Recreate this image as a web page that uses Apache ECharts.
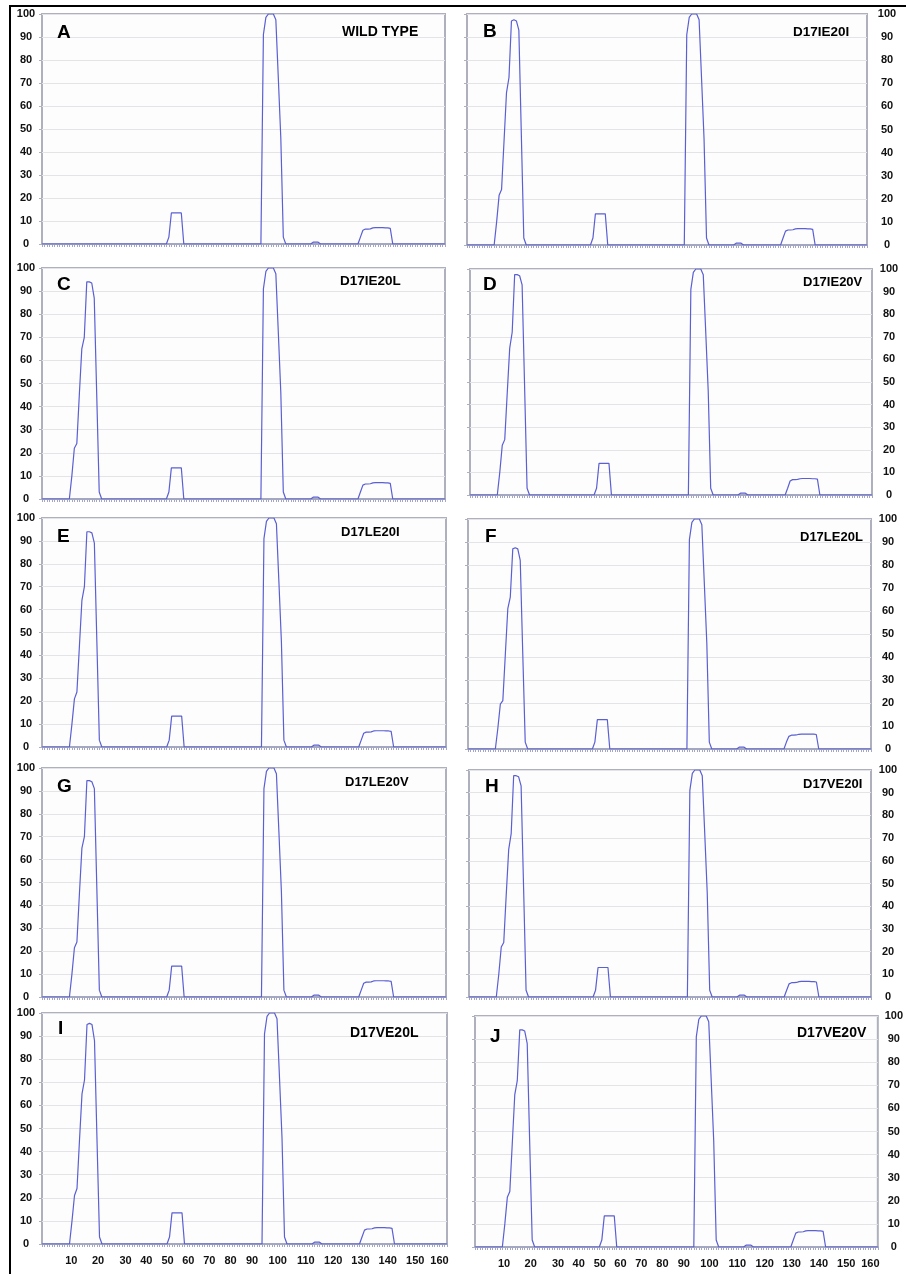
<!DOCTYPE html>
<html>
<head>
<meta charset="utf-8">
<script src="https://cdn.jsdelivr.net/npm/echarts@6/dist/echarts.min.js"></script>
<style>
  html, body { margin: 0; padding: 0; background: #fff; }
  #chart { width: 906px; height: 1274px; }
</style>
</head>
<body>
<div id="chart"></div>
<script>
// Sequence positions where the profile changes; between them the line sits flat on 0.
const xPoints = [0,
  11, 12, 13, 14, 15, 16, 17, 18, 19, 20, 21, 22, 23, 24,
  50, 51, 52, 53, 54, 55, 56, 57,
  88, 89, 90, 91, 92, 93, 94, 95, 96, 97, 98,
  108, 109, 110, 111, 112,
  127, 128, 129, 130, 131, 132, 133, 134, 135, 136, 137, 138, 139, 140, 141,
  162];

// one value per xPoints entry, grouped: start | first peak | plateau | main peak | bump | tail | end
const wildType = [0,
  0, 0, 0, 0, 0, 0, 0, 0, 0, 0, 0, 0, 0, 0,
  0, 3, 13.5, 13.5, 13.5, 13.5, 13.5, 0,
  0, 91, 98.5, 100, 100, 100, 97.5, 72, 46, 3, 0,
  0, 0.8, 0.8, 0.8, 0,
  0, 3, 6, 6.5, 6.5, 6.6, 7, 7.1, 7.1, 7.1, 7.1, 7, 7, 6.8, 0,
  0];
const d17ie20i = [0,
  0, 10, 21.5, 24, 45, 66, 72.5, 97, 97.5, 97, 93, 48, 3, 0,
  0, 3, 13.5, 13.5, 13.5, 13.5, 13.5, 0,
  0, 91, 98.5, 100, 100, 100, 97.5, 72, 46, 3, 0,
  0, 0.8, 0.8, 0.8, 0,
  0, 3, 6, 6.5, 6.5, 6.6, 7, 7.1, 7.1, 7.1, 7.1, 7, 7, 6.8, 0,
  0];
const d17ie20l = [0,
  0, 10, 22, 24, 45, 65, 70, 94, 94, 93.5, 87, 45, 3, 0,
  0, 3, 13.5, 13.5, 13.5, 13.5, 13.5, 0,
  0, 91, 98.5, 100, 100, 100, 97.5, 72, 46, 3, 0,
  0, 0.8, 0.8, 0.8, 0,
  0, 3, 6, 6.5, 6.5, 6.6, 7, 7.1, 7.1, 7.1, 7.1, 7, 7, 6.8, 0,
  0];
const d17ie20v = [0,
  0, 10, 22, 24.5, 45, 65, 72, 97.5, 97.5, 97, 93, 48, 3, 0,
  0, 3, 14, 14, 14, 14, 14, 0,
  0, 91, 98.5, 100, 100, 100, 97.5, 72, 46, 3, 0,
  0, 0.8, 0.8, 0.8, 0,
  0, 3, 6.2, 6.8, 6.8, 6.9, 7.2, 7.3, 7.3, 7.3, 7.3, 7.2, 7.2, 7, 0,
  0];
const d17le20i = [0,
  0, 10, 21, 24, 44, 64, 70, 94, 94, 93.5, 89, 46, 3, 0,
  0, 3, 13.5, 13.5, 13.5, 13.5, 13.5, 0,
  0, 91, 98.5, 100, 100, 100, 97.5, 72, 46, 3, 0,
  0, 0.8, 0.8, 0.8, 0,
  0, 3, 6, 6.5, 6.5, 6.6, 7, 7.1, 7.1, 7.1, 7.1, 7, 7, 6.8, 0,
  0];
const d17le20l = [0,
  0, 9, 19.5, 21, 41, 61, 66, 87, 87.5, 87, 82, 42, 3, 0,
  0, 3, 12.8, 12.8, 12.8, 12.8, 12.8, 0,
  0, 91, 98.5, 100, 100, 100, 97.5, 72, 46, 3, 0,
  0, 0.8, 0.8, 0.8, 0,
  0, 3, 5.5, 6, 6, 6.1, 6.4, 6.5, 6.5, 6.5, 6.5, 6.5, 6.5, 6.3, 0,
  0];
const d17le20v = [0,
  0, 10, 21.5, 24, 45, 65, 70, 94.5, 94.5, 94, 91, 47, 3, 0,
  0, 3, 13.5, 13.5, 13.5, 13.5, 13.5, 0,
  0, 91, 98.5, 100, 100, 100, 97.5, 72, 46, 3, 0,
  0, 0.8, 0.8, 0.8, 0,
  0, 3, 6, 6.5, 6.5, 6.6, 7, 7.1, 7.1, 7.1, 7.1, 7, 7, 6.8, 0,
  0];
const d17ve20i = [0,
  0, 10, 22, 24, 45, 65, 72, 97.5, 97.5, 97, 93, 48, 3, 0,
  0, 3, 13, 13, 13, 13, 13, 0,
  0, 91, 98.5, 100, 100, 100, 97.5, 72, 46, 3, 0,
  0, 0.8, 0.8, 0.8, 0,
  0, 3, 5.8, 6.3, 6.3, 6.4, 6.8, 6.9, 6.9, 6.9, 6.9, 6.8, 6.8, 6.6, 0,
  0];
const d17ve20l = [0,
  0, 10, 21, 24, 45, 65, 71, 95, 95.5, 95, 88, 45, 3, 0,
  0, 3, 13.5, 13.5, 13.5, 13.5, 13.5, 0,
  0, 91, 98.5, 100, 100, 100, 97.5, 72, 46, 3, 0,
  0, 0.8, 0.8, 0.8, 0,
  0, 3, 6, 6.5, 6.5, 6.6, 7, 7.1, 7.1, 7.1, 7.1, 7, 7, 6.8, 0,
  0];
const d17ve20v = [0,
  0, 10, 21.5, 24, 45, 66, 72, 94, 94, 93.5, 88, 45, 3, 0,
  0, 3, 13.5, 13.5, 13.5, 13.5, 13.5, 0,
  0, 91, 98.5, 100, 100, 100, 97.5, 72, 46, 3, 0,
  0, 0.8, 0.8, 0.8, 0,
  0, 3, 6, 6.5, 6.5, 6.6, 7, 7.1, 7.1, 7.1, 7.1, 7, 7, 6.8, 0,
  0];

const panelLetters = ['A', 'B', 'C', 'D', 'E', 'F', 'G', 'H', 'I', 'J'];
const panelNames = ['WILD TYPE', 'D17IE20I', 'D17IE20L', 'D17IE20V', 'D17LE20I',
  'D17LE20L', 'D17LE20V', 'D17VE20I', 'D17VE20L', 'D17VE20V'];
const panelValues = [wildType, d17ie20i, d17ie20l, d17ie20v, d17le20i,
  d17le20l, d17le20v, d17ve20i, d17ve20l, d17ve20v];

// bottom tick labels, hand-placed in the original (uneven spacing), and the positions they sit at
const xTickLabels = ['10', '20', '30', '40', '50', '60', '70', '80', '90', '100',
  '110', '120', '130', '140', '150', '160'];
const xTickValues = [11.7, 22.4, 33.4, 41.7, 50.2, 58.5, 66.9, 75.4, 84, 94.3,
  105.5, 116.5, 127.4, 138.3, 149.3, 159];

// panel layout: plot rect, label side/margin, letter anchor, name anchor (left x, middle y) and name size
const layout = [
  { l: 42,  t: 14,   w: 403, h: 230, right: false, m: 16, lx: 57,  ly: 33,   nx: 342, ny: 32,   ns: 14 },
  { l: 467, t: 14,   w: 400, h: 231, right: true,  m: 20, lx: 483, ly: 32,   nx: 793, ny: 32,   ns: 13.5 },
  { l: 42,  t: 268,  w: 403, h: 231, right: false, m: 16, lx: 57,  ly: 285,  nx: 340, ny: 281,  ns: 13.5 },
  { l: 470, t: 269,  w: 402, h: 226, right: true,  m: 17, lx: 483, ly: 285,  nx: 803, ny: 282,  ns: 13 },
  { l: 42,  t: 518,  w: 404, h: 229, right: false, m: 16, lx: 57,  ly: 537,  nx: 341, ny: 532,  ns: 13 },
  { l: 468, t: 519,  w: 403, h: 230, right: true,  m: 17, lx: 485, ly: 537,  nx: 800, ny: 537,  ns: 13 },
  { l: 42,  t: 768,  w: 404, h: 229, right: false, m: 16, lx: 57,  ly: 787,  nx: 345, ny: 782,  ns: 13 },
  { l: 469, t: 770,  w: 402, h: 227, right: true,  m: 17, lx: 485, ly: 787,  nx: 803, ny: 784,  ns: 13 },
  { l: 42,  t: 1013, w: 405, h: 231, right: false, m: 16, lx: 58,  ly: 1029, nx: 350, ny: 1033, ns: 14 },
  { l: 475, t: 1016, w: 403, h: 231, right: true,  m: 16, lx: 490, ly: 1037, nx: 797, ny: 1033, ns: 14 },
];

const FONT = '"Liberation Sans", Arial, sans-serif';
const LINE = '#5a5fd2';
const AXIS = '#a3a7c2';
const FRAME = '#aeb1bd';

const grid = [], xAxis = [], yAxis = [], series = [], graphic = [];

layout.forEach((p, i) => {
  const bottomRow = i >= 8;
  grid.push({
    left: p.l, top: p.t, width: p.w, height: p.h,
    show: true, borderColor: FRAME, borderWidth: 2, backgroundColor: '#fdfdfd',
  });
  xAxis.push({
    type: 'value', gridIndex: i, min: 0, max: 162, interval: 1,
    axisLine: { show: true, lineStyle: { color: AXIS, width: 2 } },
    axisTick: { show: true, length: 3, lineStyle: { color: AXIS, width: 1 } },
    splitLine: { show: false },
    axisLabel: bottomRow ? {
      show: true, customValues: xTickValues, margin: 11,
      color: '#111', fontSize: 11, fontWeight: 'bold', fontFamily: FONT,
      formatter: (v) => {
        let best = -1, dist = 1e9;
        xTickValues.forEach((t, k) => { const d = Math.abs(t - v); if (d < dist) { dist = d; best = k; } });
        return dist < 0.3 ? xTickLabels[best] : '';
      },
    } : { show: false },
  });
  const labelStyle = {
    color: '#111', fontSize: 11, fontWeight: 'bold', fontFamily: FONT,
    align: 'center', margin: p.m,
  };
  yAxis.push({
    type: 'value', gridIndex: i, position: 'left', min: 0, max: 100, interval: 10,
    axisLine: { show: false },
    axisTick: { show: true, length: 3, lineStyle: { color: FRAME, width: 1 } },
    splitLine: { show: true, lineStyle: { color: '#e4e4e8', width: 1 } },
    axisLabel: p.right ? { show: false } : Object.assign({ show: true }, labelStyle),
  });
  yAxis.push({
    type: 'value', gridIndex: i, position: 'right', min: 0, max: 100, interval: 10,
    axisLine: { show: false }, axisTick: { show: false }, splitLine: { show: false },
    axisLabel: p.right ? Object.assign({ show: true }, labelStyle) : { show: false },
  });
  series.push({
    type: 'line', xAxisIndex: i, yAxisIndex: 2 * i,
    data: xPoints.map((x, k) => [x, panelValues[i][k]]),
    showSymbol: false, symbol: 'none', smooth: false, silent: true,
    lineStyle: { color: LINE, width: 1.2 },
  });
  graphic.push({
    type: 'text', x: p.lx, y: p.ly, silent: true, z: 100,
    style: { text: panelLetters[i], fill: '#000', font: 'bold 19px ' + FONT,
      align: 'left', verticalAlign: 'middle' },
  });
  graphic.push({
    type: 'text', x: p.nx, y: p.ny, silent: true, z: 100,
    style: { text: panelNames[i], fill: '#000', font: 'bold ' + p.ns + 'px ' + FONT,
      align: 'left', verticalAlign: 'middle' },
  });
});

// outer frame of the figure (top and left edges are visible in the crop)
graphic.push({ type: 'line', silent: true, z: 100, shape: { x1: 9, y1: 6, x2: 906, y2: 6 },
  style: { stroke: '#000', lineWidth: 2 } });
graphic.push({ type: 'line', silent: true, z: 100, shape: { x1: 10, y1: 5, x2: 10, y2: 1274 },
  style: { stroke: '#000', lineWidth: 2 } });

const chart = echarts.init(document.getElementById('chart'), null, { renderer: 'canvas' });
chart.setOption({
  animation: false,
  backgroundColor: '#ffffff',
  grid, xAxis, yAxis, series, graphic,
});
</script>
</body>
</html>
